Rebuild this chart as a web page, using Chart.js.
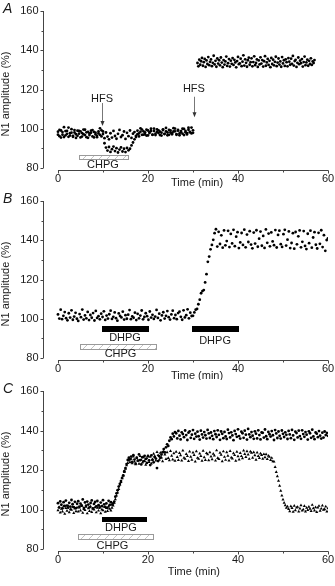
<!DOCTYPE html>
<html>
<head>
<meta charset="utf-8">
<script src="https://cdn.jsdelivr.net/npm/chart.js@4.4.0/dist/chart.umd.min.js"></script>
<style>
  html, body { margin: 0; padding: 0; background: #fff; }
  #wrap { position: relative; width: 335px; height: 586px; }
  #wrap canvas { position: absolute; left: 0; }
</style>
</head>
<body>
<div id="wrap">
  <canvas id="panelA" width="335" height="190" style="top:0px"></canvas>
  <canvas id="panelB" width="335" height="190" style="top:190px"></canvas>
  <canvas id="panelC" width="335" height="206" style="top:380px"></canvas>
</div>
<script>
// ---- axes / ticks ----
const xTicks = [0, 20, 40, 60];
const xMinorTicks = [10, 30, 50];
const yTicks = [80, 100, 120, 140, 160];
const yMinorTicks = [90, 110, 130, 150];

// ---- Panel A: two recordings sampled every 20 s from 0 to 30 min ----
const aTrace1 = [
  98.5, 96.2, 99.1, 97.0, 95.8, 98.8, 97.4, 100.6, 96.5, 98.0, 95.9, 99.3, 97.2, 96.4, 98.9, 95.6,
  97.8, 99.6, 96.8, 98.2, 95.4, 97.6, 99.0, 96.1, 98.4, 97.1, 95.7, 98.6, 96.9, 99.2, 97.3,
  95.2, 98.1, 96.0, 94.6, 97.7, 95.5, 98.9, 96.3, 94.9, 97.4, 99.4, 95.8, 96.7, 98.6, 94.8, 97.9,
  96.2, 99.1, 95.3, 97.5, 98.3,
  96.4, 99.0, 97.6, 100.2, 96.9, 98.7, 97.2, 99.5, 96.6, 98.3, 100.0, 97.0, 98.9, 96.8, 99.7, 97.8,
  98.5, 96.5, 99.3, 97.4, 100.4, 98.1, 96.9, 99.1, 97.7, 98.6, 100.1, 97.3, 99.4, 96.7, 98.8, 97.5,
  99.9, 98.2, 97.1, 100.5, 98.4, 97.6, 99.2
];
const aTrace2 = [
  97.0, 99.4, 95.5, 98.3, 100.8, 96.6, 98.9, 95.9, 97.7, 99.8, 96.3, 98.1, 95.3, 99.0, 97.5, 98.7,
  96.0, 97.2, 99.5, 95.7, 98.4, 96.8, 97.9, 99.3, 95.6, 98.0, 96.4, 97.6, 100.2, 96.1, 98.6,
  92.6, 90.4, 88.9, 90.7, 88.2, 89.6, 90.9, 88.6, 90.1, 87.9, 89.4, 90.5, 88.4, 89.8, 88.1, 90.2,
  89.0, 89.8, 91.5, 93.0, 94.6,
  95.8, 97.2, 96.1, 98.5, 99.6, 97.0, 98.2, 96.5, 99.1, 97.8, 98.8, 96.9, 100.1, 97.5, 98.4, 99.2,
  96.8, 98.0, 99.7, 97.3, 98.6, 96.7, 99.4, 98.1, 97.2, 100.3, 98.7, 96.9, 99.0, 97.6, 98.3, 100.0,
  96.8, 98.9, 97.7, 99.5, 98.2, 100.6, 97.9
];
// after the second HFS: 31 to 57 min, every 12 s
const aAfterHfs = [
  133.5, 131.8, 135.2, 132.6, 134.4, 136.1, 132.1, 133.9, 135.6, 131.5,
  134.8, 133.0, 136.5, 132.4, 134.1, 135.3, 131.9, 133.6, 137.2, 132.8,
  134.6, 131.6, 135.8, 133.2, 134.9, 132.3, 136.3, 133.7, 131.4, 135.0,
  132.7, 134.3, 136.8, 132.0, 133.4, 135.5, 131.7, 134.7, 133.1, 136.0,
  132.5, 135.1, 133.8, 131.3, 134.5, 136.6, 132.9, 133.3, 135.7, 131.9,
  134.2, 137.4, 132.2, 135.4, 133.6, 131.6, 134.9, 136.2, 132.6, 133.9,
  135.9, 131.8, 134.0, 136.9, 132.4, 133.5, 135.3, 131.5, 134.8, 132.8,
  136.4, 133.2, 135.0, 131.7, 134.4, 137.0, 132.1, 133.8, 135.6, 132.5,
  134.6, 131.4, 136.1, 133.0, 135.2, 132.3, 134.1, 136.7, 131.9, 133.7,
  135.8, 132.7, 134.3, 131.6, 136.5, 133.3, 134.9, 132.0, 135.4, 133.9,
  131.8, 136.0, 134.2, 132.6, 135.7, 133.1, 137.1, 132.2, 134.5, 135.1,
  131.5, 133.6, 136.3, 132.9, 134.7, 133.4, 135.5, 131.7, 134.0, 136.8,
  132.4, 133.8, 135.2, 132.1, 134.6, 133.0, 135.9, 132.5, 134.3, 133.5,
  135.0
];

// ---- Panel B: one recording, every 18 s from 0 to 60 min ----
const bBaseline = [
  102.2, 100.1, 104.6, 99.8, 101.5, 103.4, 100.3, 99.2, 102.8, 100.6,
  104.3, 99.5, 101.1, 103.0, 100.0, 98.9, 102.4, 100.8, 104.7, 99.6,
  101.7, 100.2, 103.5, 99.3, 101.9, 100.5, 102.9, 99.1, 104.0, 100.4,
  101.3, 99.7, 102.6, 100.9, 103.8, 99.4, 101.6, 100.1, 102.3, 104.1,
  99.9, 101.0, 103.2, 100.3, 99.0, 102.7, 101.4, 100.7, 103.6, 99.6,
  101.8, 100.0, 102.1, 104.4, 99.8, 101.2, 100.5, 103.1, 99.3, 102.5,
  100.2, 101.6, 104.2, 99.7, 100.9, 102.8, 101.3, 99.5, 103.7, 100.6,
  102.0, 99.9, 101.1, 104.5, 100.4, 102.6, 99.2, 101.7, 103.3, 100.1,
  101.5, 103.9, 100.8, 99.6, 102.2, 104.1, 100.3, 101.9, 99.8, 102.9,
  103.6, 101.0, 99.5, 104.3, 100.7, 101.8, 104.8, 100.2, 103.1, 101.4
];
const bRise = [
  101.5, 103.2, 104.6, 105.0, 107.4, 109.7, 113.0, 114.1, 114.6, 118.5,
  122.7, 129.0, 131.7, 135.4, 137.6, 140.2, 143.6, 145.6
];
const bPlateau = [
  136.8, 144.3, 138.1, 142.5, 136.2, 145.0, 137.4, 139.6, 144.8, 136.5,
  143.2, 138.4, 145.3, 137.0, 141.8, 144.1, 136.0, 138.9, 143.7, 137.6,
  145.4, 136.4, 142.9, 139.1, 144.6, 137.8, 135.9, 143.9, 138.3, 145.1,
  136.7, 140.8, 144.4, 137.2, 142.2, 136.1, 145.5, 138.7, 143.4, 136.9,
  144.0, 139.4, 137.5, 145.2, 136.3, 142.7, 144.9, 138.0, 136.6, 143.1,
  145.3, 137.3, 140.3, 144.5, 136.0, 138.6, 143.6, 135.7, 144.2, 137.9,
  142.0, 145.0, 136.4, 139.2, 144.7, 137.1, 135.5, 143.3, 138.5, 144.9,
  136.2, 141.4, 144.1, 137.7, 135.8, 143.8, 138.2, 145.1, 136.5, 142.6,
  134.6, 140.1, 141.0
];

// ---- Panel C: two recordings, every 15 s from 0 to 60 min ----
const cHighBaseline = [
  103.2, 101.0, 104.1, 102.4, 100.6, 103.7, 101.8, 104.5, 102.0, 100.9,
  103.4, 101.5, 104.8, 102.7, 101.2, 103.9, 100.7, 102.9, 104.2, 101.4,
  103.0, 102.1, 105.1, 100.8, 103.6, 101.9, 104.0, 102.5, 101.1, 103.3,
  104.6, 100.5, 102.8, 103.8, 101.6, 104.3, 102.2, 100.9, 103.5, 101.7,
  104.7, 102.6, 101.3, 103.1, 100.8, 104.4, 102.3, 103.7
];
const cHighRise1 = [
  102.5, 103.1, 104.0, 106.5, 108.2, 109.8, 111.6, 113.0, 114.4, 116.0,
  117.3, 119.4, 121.0, 123.0, 125.1, 126.2, 125.4
];
const cHighStep1 = [
  126.8, 124.1, 127.5, 125.3, 123.2, 126.2, 124.7, 127.9, 125.0, 122.8,
  126.5, 124.4, 127.2, 125.6, 123.6, 126.9, 124.9, 122.5, 127.4, 125.1,
  123.9, 126.6, 125.8, 121.0, 124.5, 127.0, 126.1
];
const cHighRise2 = [
  127.8, 129.0, 130.6, 128.9, 131.5, 133.0, 132.2, 134.8, 136.5, 135.6, 138.4, 137.0, 139.2
];
const cHighStep2 = [
  138.6, 136.0, 139.8, 137.4, 135.5, 139.1, 138.2, 136.6, 140.0, 137.7,
  135.2, 138.9, 139.6, 136.3, 137.9, 140.2, 135.8, 138.4, 136.9, 139.4,
  137.1, 135.4, 139.9, 138.0, 136.4, 139.2, 137.6, 135.9, 140.3, 138.5,
  136.2, 139.0, 137.3, 135.6, 139.7, 138.1, 136.7, 140.1, 137.8, 135.3,
  139.5, 138.3, 136.1, 139.3, 137.0, 135.7, 140.4, 138.7, 136.5, 139.1,
  137.5, 135.1, 139.8, 138.2, 136.8, 140.6, 137.2, 135.9, 139.4, 138.6,
  136.3, 139.9, 137.9, 135.4, 140.8, 138.0, 136.6, 139.2, 137.4, 135.8,
  139.6, 138.4, 136.0, 140.1, 137.7, 135.5, 139.0, 138.8, 136.4, 140.5,
  137.1, 135.6, 139.3, 138.1, 136.9, 139.7, 137.6, 135.2, 140.2, 138.5,
  136.2, 139.5, 137.3, 135.9, 140.0, 138.3, 136.7, 139.1, 137.8, 135.7,
  139.8, 138.0, 136.1, 140.3, 137.5, 135.3, 139.4, 138.7, 136.5, 139.9,
  137.2, 135.8, 140.1, 138.2, 136.8, 139.2, 137.9, 135.4, 139.6, 138.6,
  136.3, 140.4, 137.0, 135.6, 139.0, 138.4, 136.6, 139.7, 137.4, 135.9,
  138.9, 136.4, 139.5, 137.7, 138.8, 137.3
];
const cLowBaseline = [
  99.6, 101.2, 98.4, 100.3, 99.0, 101.6, 97.8, 100.7, 99.3, 101.9,
  98.6, 100.1, 99.8, 101.4, 98.2, 100.5, 99.1, 101.0, 98.9, 100.9,
  99.5, 101.7, 98.3, 100.2, 99.7, 101.3, 98.0, 100.6, 99.2, 101.5,
  98.7, 100.4, 99.9, 101.1, 98.5, 100.8, 99.4, 101.8, 98.1, 100.0,
  99.6, 101.3, 98.8, 100.7, 99.2, 101.6, 100.3, 99.5
];
const cLowRise = [
  100.8, 102.0, 103.4, 105.2, 107.0, 108.6, 110.3, 112.5, 113.9, 115.8,
  117.1, 119.0, 120.6, 122.4, 123.5, 124.8, 123.9
];
const cLowPlateau = [
  125.6, 123.4, 126.8, 124.2, 122.9, 126.1, 124.8, 123.1, 127.0, 125.2,
  123.7, 126.4, 124.5, 122.6, 125.9, 127.3, 124.0, 126.6, 123.3, 125.4,
  128.2, 126.9, 124.7, 129.1, 127.5, 125.1, 128.7, 126.3, 124.4, 129.4,
  127.8, 125.5, 128.9, 126.0, 124.9, 129.6, 127.2, 125.3, 128.4, 124.6,
  129.2, 126.5, 125.0, 128.6, 127.4, 124.8, 129.8, 126.2, 125.6, 128.1,
  127.0, 124.5, 129.3, 126.7, 125.2, 128.8, 127.6, 124.3, 129.5, 126.1,
  125.7, 128.3, 127.1, 124.6, 129.7, 126.4, 125.0, 128.5, 127.9, 124.9,
  129.0, 126.8, 125.4, 128.2, 127.3, 124.7, 129.9, 126.0, 125.5, 128.7,
  127.7, 124.4, 129.4, 126.6, 125.1, 128.9, 127.2, 124.8, 129.6, 126.3,
  125.8, 128.4, 127.5, 124.6, 129.2, 126.9, 125.3, 128.6, 127.0, 125.9,
  129.8, 128.1, 126.5, 129.5, 127.8, 125.6, 129.3, 128.7, 126.2, 129.0,
  127.4, 125.2, 128.8, 127.1, 126.0, 128.3, 127.6, 125.7, 128.0, 126.4,
  127.9, 125.5, 127.2, 126.6, 125.0, 126.1, 124.4
];
const cLowDrop = [
  124.2, 121.5, 119.0, 116.8, 114.5, 112.0, 109.5, 107.1, 105.0, 103.4, 102.1, 100.8, 101.5
];
const cLowRecovery = [
  100.2, 99.1, 101.6, 100.7, 98.8, 101.9, 99.6, 100.9, 101.3, 99.0,
  100.5, 102.1, 99.4, 100.0, 101.7, 98.9, 100.8, 99.7, 101.4, 100.3,
  99.2, 102.3, 100.6, 99.5, 101.1, 98.7, 100.9, 101.8, 99.3, 100.4,
  102.0, 99.8, 100.1, 101.5, 99.0, 100.6
];

// sample time (min) of value i in a run that starts at t0 with step dt
const series = (t0, dt, values) => values.map((v, i) => ({ x: t0 + i * dt, y: v }));

// ---- drawing helpers ----
const FONT = '"Liberation Sans", Arial, sans-serif';
const X_MIN = -3.33; // y axis stands a little left of time 0

const panelAxes = {
  id: 'panelAxes',
  afterDatasetsDraw(chart, args, opts) {
    const { ctx, chartArea, scales: { x, y } } = chart;
    ctx.save();
    // bars under the traces
    (opts.bars || []).forEach(b => {
      const x0 = Math.round(x.getPixelForValue(b.from)), x1 = Math.round(x.getPixelForValue(b.to));
      const y0 = Math.round(y.getPixelForValue(b.top)), y1 = Math.round(y.getPixelForValue(b.bottom));
      if (b.hatch) {
        ctx.save();
        ctx.beginPath(); ctx.rect(x0, y0, x1 - x0, y1 - y0); ctx.clip();
        ctx.strokeStyle = '#b4b4b4'; ctx.lineWidth = 0.8;
        ctx.beginPath();
        const h = y1 - y0;
        for (let k = x0 - h; k < x1 + h; k += 8) { ctx.moveTo(k, y1); ctx.lineTo(k + h, y0); }
        ctx.stroke();
        ctx.restore();
        ctx.strokeStyle = '#9a9a9a'; ctx.lineWidth = 1;
        ctx.strokeRect(x0 + 0.5, y0 + 0.5, x1 - x0, y1 - y0);
      } else {
        ctx.fillStyle = '#000';
        ctx.fillRect(x0, y0, x1 - x0, y1 - y0);
      }
    });
    ctx.fillStyle = '#1a1a1a';
    ctx.font = '11px ' + FONT;
    ctx.textAlign = 'center'; ctx.textBaseline = 'middle';
    (opts.labels || []).forEach(l => ctx.fillText(l.text, x.getPixelForValue(l.x), y.getPixelForValue(l.y)));
    // arrows (HFS)
    (opts.arrows || []).forEach(a => {
      const ax = Math.round(x.getPixelForValue(a.x)) + 0.5;
      const ya = y.getPixelForValue(a.from), yb = y.getPixelForValue(a.to);
      ctx.strokeStyle = '#777'; ctx.lineWidth = 1;
      ctx.beginPath(); ctx.moveTo(ax, ya); ctx.lineTo(ax, yb - 4); ctx.stroke();
      ctx.fillStyle = '#333';
      ctx.beginPath(); ctx.moveTo(ax - 2, yb - 5); ctx.lineTo(ax + 2, yb - 5); ctx.lineTo(ax, yb); ctx.closePath(); ctx.fill();
    });

    // axes
    const bottom = y.getPixelForValue(80);
    const ax = chartArea.left + 0.5;
    ctx.strokeStyle = '#444'; ctx.lineWidth = 1;
    ctx.beginPath();
    ctx.moveTo(ax, y.getPixelForValue(160)); ctx.lineTo(ax, bottom);
    yTicks.forEach(v => { const p = Math.round(y.getPixelForValue(v)) + 0.5; ctx.moveTo(ax, p); ctx.lineTo(ax - 3, p); });
    yMinorTicks.forEach(v => { const p = Math.round(y.getPixelForValue(v)) + 0.5; ctx.moveTo(ax, p); ctx.lineTo(ax - 2, p); });
    const xl = Math.round(bottom) + 2.5;
    ctx.moveTo(x.getPixelForValue(0), xl); ctx.lineTo(x.getPixelForValue(60) + 0.5, xl);
    xTicks.forEach(v => { const p = Math.round(x.getPixelForValue(v)) + 0.5; ctx.moveTo(p, xl); ctx.lineTo(p, xl + 3); });
    xMinorTicks.forEach(v => { const p = Math.round(x.getPixelForValue(v)) + 0.5; ctx.moveTo(p, xl); ctx.lineTo(p, xl + 2); });
    ctx.stroke();

    ctx.fillStyle = '#1a1a1a';
    ctx.font = '11px ' + FONT;
    ctx.textAlign = 'right'; ctx.textBaseline = 'middle';
    yTicks.forEach(v => ctx.fillText(String(v), ax - 5, y.getPixelForValue(v)));
    ctx.textAlign = 'center';
    xTicks.forEach(v => ctx.fillText(String(v), x.getPixelForValue(v), bottom + 11));
    ctx.fillText('Time (min)', x.getPixelForValue(opts.timeX), bottom + opts.timeDy);

    ctx.save();
    ctx.translate(6, 94);
    ctx.rotate(-Math.PI / 2);
    ctx.fillText('N1 amplitude (%)', 0, 0);
    ctx.restore();

    ctx.font = 'italic 14px ' + FONT;
    ctx.textAlign = 'left';
    ctx.fillText(opts.letter, 3, 9);
    ctx.restore();
  }
};

const dot = data => ({ data, pointRadius: 1.4, pointBackgroundColor: '#000', pointBorderWidth: 0, showLine: false });
const tri = data => ({ data, pointStyle: 'triangle', pointRadius: 1.8, pointBackgroundColor: '#000', pointBorderWidth: 0, showLine: false });

function makePanel(id, datasets, bottomPad, cfg) {
  return new Chart(document.getElementById(id), {
    type: 'scatter',
    data: { datasets },
    options: {
      responsive: false, animation: false, devicePixelRatio: 1,
      layout: { padding: { left: 43, right: 7, top: 11, bottom: bottomPad } },
      scales: {
        x: { type: 'linear', min: X_MIN, max: 60, display: false },
        y: { type: 'linear', min: 80, max: 160, display: false }
      },
      plugins: { legend: { display: false }, tooltip: { enabled: false }, panelAxes: cfg }
    },
    plugins: [panelAxes]
  });
}

makePanel('panelA', [
  dot(series(0, 1 / 3, aTrace1)),
  dot(series(0, 1 / 3, aTrace2)),
  dot(series(31, 0.2, aAfterHfs))
], 22, {
  letter: 'A', timeX: 30.9, timeDy: 15,
  bars: [{ hatch: true, from: 4.7, to: 15.6, top: 86.6, bottom: 84.4 }],
  labels: [
    { text: 'CHPG', x: 10, y: 81.5 },
    { text: 'HFS', x: 9.8, y: 115.4 },
    { text: 'HFS', x: 30.2, y: 120.5 }
  ],
  arrows: [{ x: 9.84, from: 113.1, to: 101.4 }, { x: 30.3, from: 116.3, to: 105.8 }]
});

makePanel('panelB', [
  dot(series(0, 0.3, [...bBaseline, ...bRise, ...bPlateau]))
], 22, {
  letter: 'B', timeX: 30.9, timeDy: 18,
  bars: [
    { from: 9.7, to: 20.2, top: 96.3, bottom: 93.5 },
    { from: 29.7, to: 40.3, top: 96.3, bottom: 93.5 },
    { hatch: true, from: 5, to: 21.7, top: 87.1, bottom: 84.8 }
  ],
  labels: [
    { text: 'DHPG', x: 14.9, y: 90.0 },
    { text: 'DHPG', x: 34.9, y: 88.8 },
    { text: 'CHPG', x: 13.9, y: 82.0 }
  ]
});

makePanel('panelC', [
  dot(series(0, 0.25, [...cHighBaseline, ...cHighRise1, ...cHighStep1, ...cHighRise2, ...cHighStep2])),
  tri(series(0, 0.25, [...cLowBaseline, ...cLowRise, ...cLowPlateau, ...cLowDrop, ...cLowRecovery]))
], 37, {
  letter: 'C', timeX: 30.2, timeDy: 23,
  bars: [
    { from: 9.7, to: 19.85, top: 96.4, bottom: 93.8 },
    { hatch: true, from: 4.5, to: 21.2, top: 87.4, bottom: 85.0 }
  ],
  labels: [
    { text: 'DHPG', x: 14, y: 90.6 },
    { text: 'CHPG', x: 12.1, y: 81.7 }
  ]
});
</script>
</body>
</html>
